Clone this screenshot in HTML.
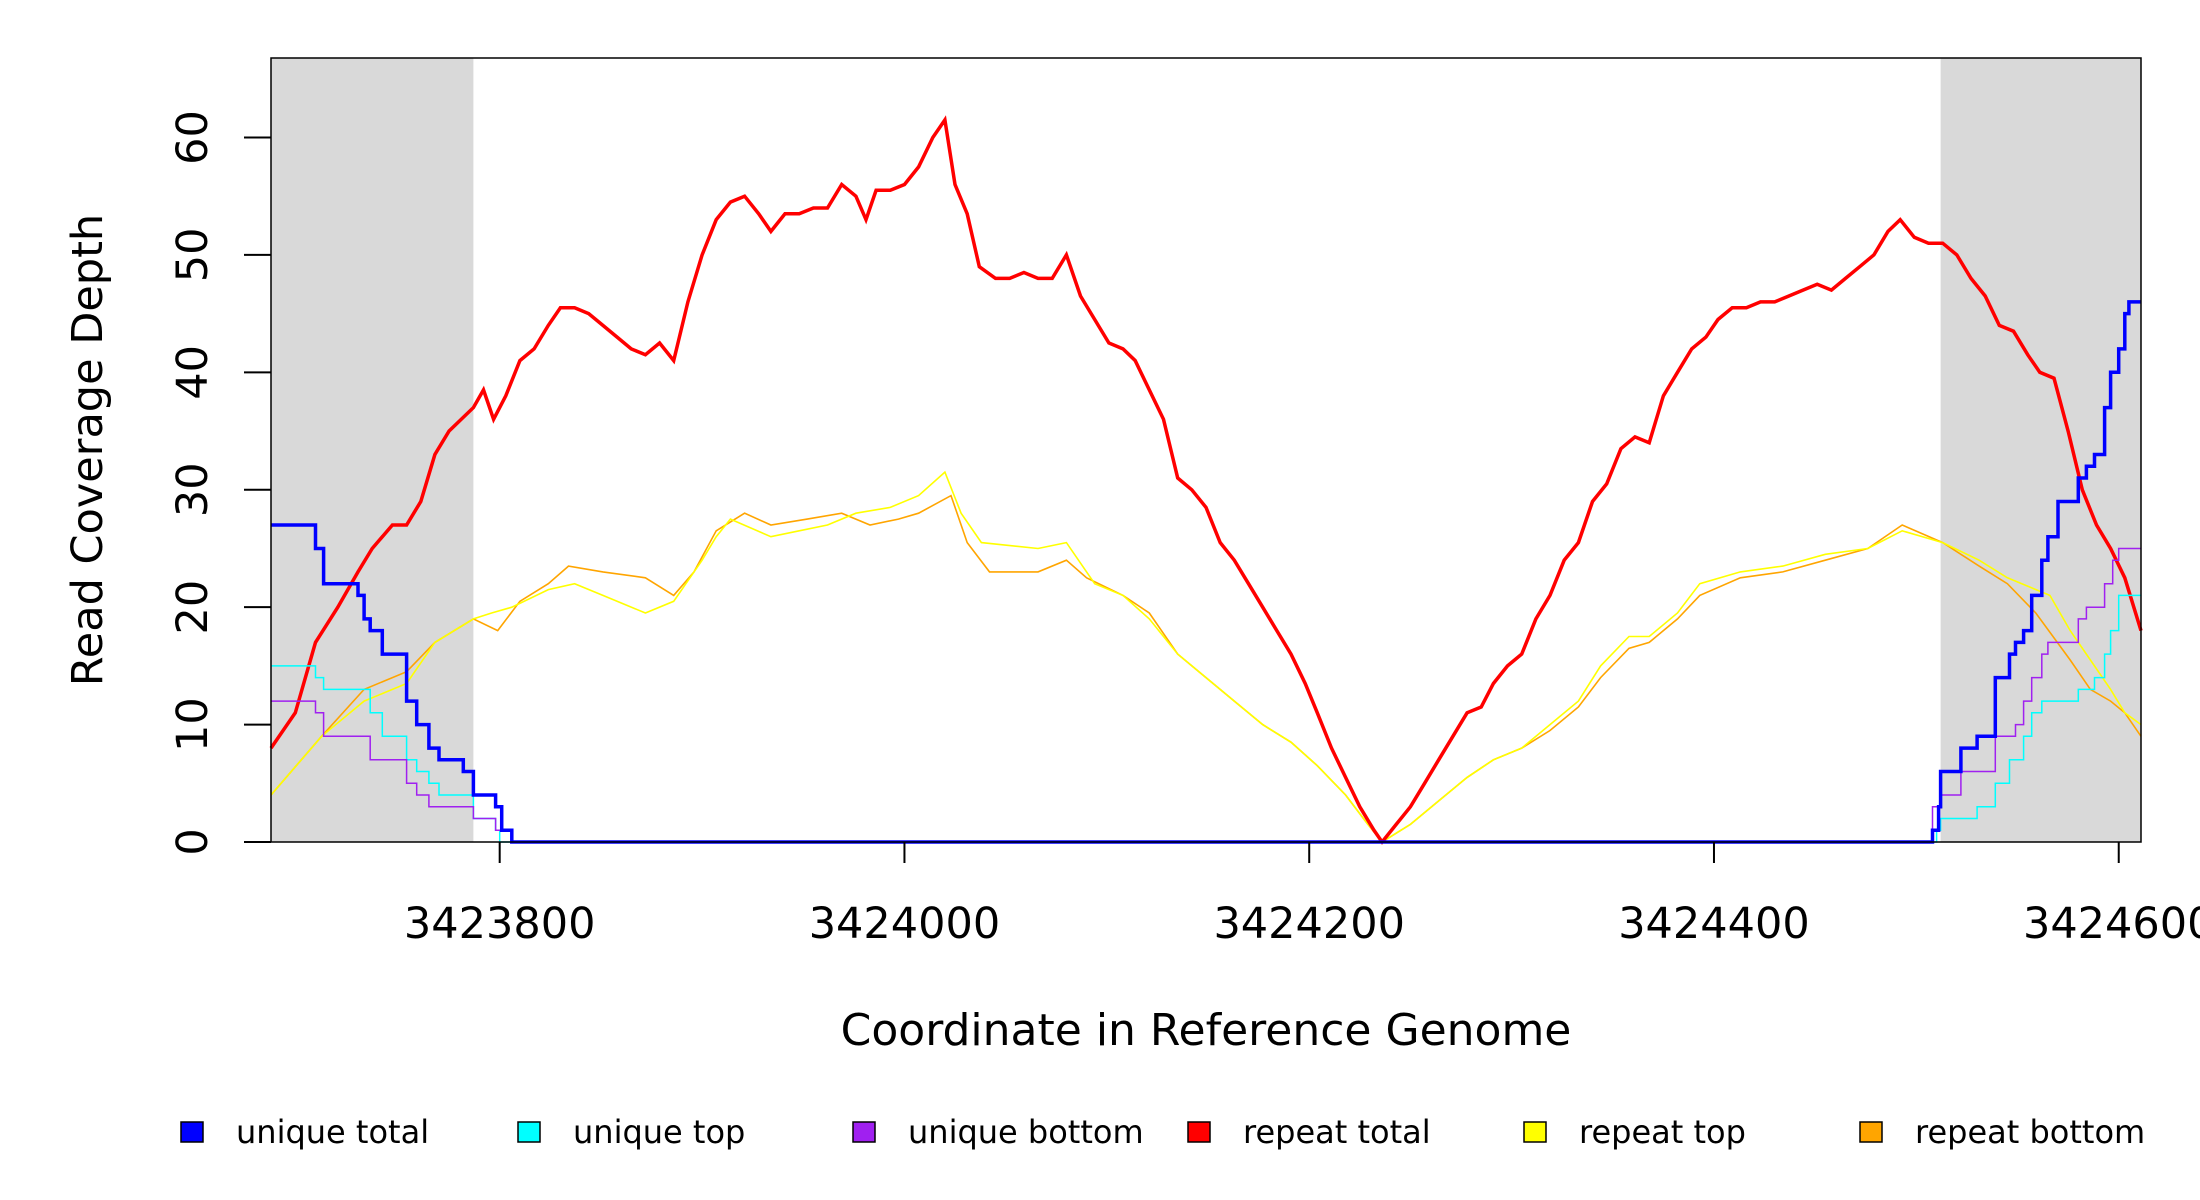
<!DOCTYPE html>
<html><head><meta charset="utf-8"><style>
html,body{margin:0;padding:0;background:#fff;}
svg{display:block;font-family:"DejaVu Sans","Liberation Sans",sans-serif;}
</style></head>
<body>
<svg id="chart" width="2200" height="1200" viewBox="0 0 2200 1200" xmlns="http://www.w3.org/2000/svg">
<g id="bg"></g>
<g id="series"></g>
<g id="axes"></g>
<g id="legend"></g>
</svg>
<script>
// ---- data ----
const xTicks = [3423800, 3424000, 3424200, 3424400, 3424600];
const yTicks = [0, 10, 20, 30, 40, 50, 60];
const shadeLeft = [3423687, 3423787];
const shadeRight = [3424512, 3424611];

const redPos = [3423687,3423699,3423709,3423720,3423730,3423737,3423747,3423754,3423761,3423768,3423775,3423787,3423792,3423797,3423803,3423810,3423817,3423824,3423830,3423837,3423844,3423851,3423858,3423865,3423872,3423879,3423886,3423893,3423900,3423907,3423914,3423921,3423928,3423934,3423941,3423948,3423955,3423962,3423969,3423976,3423981,3423986,3423993,3424000,3424007,3424014,3424020,3424025,3424031,3424037,3424045,3424052,3424059,3424066,3424073,3424080,3424087,3424094,3424101,3424108,3424114,3424121,3424128,3424135,3424142,3424149,3424156,3424163,3424170,3424177,3424184,3424191,3424198,3424204,3424211,3424218,3424225,3424232,3424236,3424243,3424250,3424257,3424264,3424271,3424278,3424285,3424291,3424298,3424305,3424312,3424319,3424326,3424333,3424340,3424347,3424354,3424361,3424368,3424375,3424382,3424389,3424396,3424402,3424409,3424416,3424423,3424430,3424437,3424444,3424451,3424458,3424465,3424472,3424479,3424486,3424492,3424499,3424506,3424513,3424520,3424527,3424534,3424541,3424548,3424555,3424561,3424568,3424575,3424582,3424589,3424596,3424603,3424611];
const redVal = [8,11,17,20,23,25,27,27,29,33,35,37,38.5,36,38,41,42,44,45.5,45.5,45,44,43,42,41.5,42.5,41,46,50,53,54.5,55,53.5,52,53.5,53.5,54,54,56,55,53,55.5,55.5,56,57.5,60,61.5,56,53.5,49,48,48,48.5,48,48,50,46.5,44.5,42.5,42,41,38.5,36,31,30,28.5,25.5,24,22,20,18,16,13.5,11,8,5.5,3,1,0,1.5,3,5,7,9,11,11.5,13.5,15,16,19,21,24,25.5,29,30.5,33.5,34.5,34,38,40,42,43,44.5,45.5,45.5,46,46,46.5,47,47.5,47,48,49,50,52,53,51.5,51,51,50,48,46.5,44,43.5,41.5,40,39.5,35,30,27,25,22.5,18];

const yelPos = [3423687,3423712,3423733,3423754,3423768,3423787,3423796,3423806,3423824,3423837,3423851,3423872,3423886,3423900,3423907,3423914,3423934,3423948,3423962,3423976,3423993,3424007,3424020,3424028,3424038,3424066,3424080,3424094,3424108,3424121,3424135,3424149,3424163,3424177,3424191,3424204,3424218,3424229,3424236,3424250,3424264,3424278,3424291,3424305,3424319,3424333,3424344,3424358,3424368,3424382,3424393,3424413,3424434,3424455,3424476,3424493,3424513,3424531,3424545,3424566,3424576,3424586,3424596,3424603,3424611];
const yelVal = [4,9,12,13.5,17,19,19.5,20,21.5,22,21,19.5,20.5,24,26,27.5,26,26.5,27,28,28.5,29.5,31.5,28,25.5,25,25.5,22,21,19,16,14,12,10,8.5,6.5,4,1.5,0,1.5,3.5,5.5,7,8,10,12,15,17.5,17.5,19.5,22,23,23.5,24.5,25,26.5,25.5,24,22.5,21,18,15.5,13,11,10];

const orgPos = [3423687,3423712,3423733,3423754,3423768,3423787,3423799,3423810,3423824,3423834,3423851,3423872,3423886,3423896,3423907,3423921,3423934,3423952,3423969,3423983,3423997,3424007,3424023,3424031,3424042,3424066,3424080,3424090,3424108,3424121,3424135,3424149,3424163,3424177,3424191,3424204,3424218,3424229,3424236,3424250,3424264,3424278,3424291,3424305,3424319,3424333,3424344,3424358,3424368,3424382,3424393,3424413,3424434,3424455,3424476,3424493,3424513,3424531,3424545,3424559,3424576,3424586,3424596,3424603,3424611];
const orgVal = [4,9,13,14.5,17,19,18,20.5,22,23.5,23,22.5,21,23,26.5,28,27,27.5,28,27,27.5,28,29.5,25.5,23,23,24,22.5,21,19.5,16,14,12,10,8.5,6.5,4,1.5,0,1.5,3.5,5.5,7,8,9.5,11.5,14,16.5,17,19,21,22.5,23,24,25,27,25.5,23.5,22,19.5,15.5,13,12,11,9];

const bluePos = [3423687,3423709,3423713,3423730,3423733,3423736,3423742,3423754,3423759,3423765,3423770,3423782,3423787,3423798,3423801,3423806,3424508,3424511,3424512,3424522,3424530,3424539,3424546,3424549,3424553,3424557,3424562,3424565,3424570,3424580,3424584,3424588,3424593,3424596,3424600,3424603,3424605];
const blueVal = [27,25,22,21,19,18,16,12,10,8,7,6,4,3,1,0,1,3,6,8,9,14,16,17,18,21,24,26,29,31,32,33,37,40,42,45,46];

const cyanPos = [3423687,3423709,3423713,3423736,3423742,3423754,3423759,3423765,3423770,3423787,3423798,3423800,3424510,3424512,3424530,3424539,3424546,3424553,3424557,3424562,3424580,3424588,3424593,3424596,3424600];
const cyanVal = [15,14,13,11,9,7,6,5,4,2,1,0,1,2,3,5,7,9,11,12,13,14,16,18,21];

const purPos = [3423687,3423709,3423713,3423736,3423754,3423759,3423765,3423787,3423798,3423806,3424508,3424512,3424522,3424539,3424549,3424553,3424557,3424562,3424565,3424580,3424584,3424593,3424597,3424600];
const purVal = [12,11,9,7,5,4,3,2,1,0,3,4,6,9,10,12,14,16,17,19,20,22,24,25];

const legendLabels = ["unique total","unique top","unique bottom","repeat total","repeat top","repeat bottom"];
const legendColors = ["#0000ff","#00ffff","#a020f0","#ff0000","#ffff00","#ffa500"];

// ---- scales ----
const X0 = 3423687, X1 = 3424611, PL = 271, PR = 2141, PT = 58, PB = 842;
const x = v => PL + (v - X0) / (X1 - X0) * (PR - PL);
const y = v => 842 - v * (842 - 137.5) / 60;
const NS = "http://www.w3.org/2000/svg";
function mk(tag, attrs, parent) {
  const e = document.createElementNS(NS, tag);
  for (const k in attrs) e.setAttribute(k, attrs[k]);
  parent.appendChild(e);
  return e;
}
const bg = document.getElementById('bg'), ser = document.getElementById('series'),
      ax = document.getElementById('axes'), lg = document.getElementById('legend');

const s1 = mk('rect', {x: x(shadeLeft[0]), y: PT, width: x(shadeLeft[1]) - x(shadeLeft[0]), height: PB - PT, fill: '#d9d9d9'}, bg);


const s2 = mk('rect', {x: x(shadeRight[0]), y: PT, width: x(shadeRight[1]) - x(shadeRight[0]), height: PB - PT, fill: '#d9d9d9'}, bg);



function stepPath(pos, val) {
  let d = 'M' + x(pos[0]).toFixed(1) + ',' + y(val[0]).toFixed(1);
  for (let i = 1; i < pos.length; i++) {
    d += 'H' + x(pos[i]).toFixed(1) + 'V' + y(val[i]).toFixed(1);
  }
  d += 'H' + x(X1).toFixed(1);
  return d;
}
function linePath(pos, val) {
  let d = 'M' + x(pos[0]).toFixed(1) + ',' + y(val[0]).toFixed(1);
  for (let i = 1; i < pos.length; i++) {
    d += 'L' + x(pos[i]).toFixed(1) + ',' + y(val[i]).toFixed(1);
  }
  return d;
}
function drawSeries(d, color, w, name) {
  const p = mk('path', {d: d, fill: 'none', stroke: color, 'stroke-width': w, 'stroke-linejoin': 'miter'}, ser);
  
  
}
drawSeries(linePath(orgPos, orgVal), '#ffa500', 1.6, 'repeat-bottom-line');
drawSeries(linePath(yelPos, yelVal), '#ffff00', 1.6, 'repeat-top-line');
drawSeries(linePath(redPos, redVal), '#ff0000', 3.5, 'repeat-total-line');
drawSeries(stepPath(cyanPos, cyanVal), '#00ffff', 1.5, 'unique-top-line');
drawSeries(stepPath(purPos, purVal), '#a020f0', 1.5, 'unique-bottom-line');
drawSeries(stepPath(bluePos, blueVal), '#0000ff', 3.5, 'unique-total-line');

const box = mk('rect', {x: PL, y: PT, width: PR - PL, height: PB - PT, fill: 'none', stroke: '#000', 'stroke-width': 1.5}, ax);



xTicks.forEach(t => {
  const l = mk('line', {x1: x(t), x2: x(t), y1: PB, y2: PB + 21, stroke: '#000', 'stroke-width': 2}, ax);
  
  
  const tx = mk('text', {x: x(t), y: 938, 'font-size': 43, 'text-anchor': 'middle'}, ax);
  tx.textContent = t;
  
  
});
yTicks.forEach(t => {
  const l = mk('line', {x1: PL - 27, x2: PL, y1: y(t), y2: y(t), stroke: '#000', 'stroke-width': 2}, ax);
  
  
  const tx = mk('text', {x: 0, y: 0, 'font-size': 43, 'text-anchor': 'middle', transform: 'translate(207,' + y(t) + ') rotate(-90)'}, ax);
  tx.textContent = t;
  
  
});
const xt = mk('text', {x: 1206, y: 1045, 'font-size': 44, 'text-anchor': 'middle'}, ax);
xt.textContent = 'Coordinate in Reference Genome';


const yt = mk('text', {x: 0, y: 0, 'font-size': 43, 'text-anchor': 'middle', transform: 'translate(102,450) rotate(-90)'}, ax);
yt.textContent = 'Read Coverage Depth';



const legX = [181, 518, 853, 1188, 1524, 1860];
legendLabels.forEach((lab, i) => {
  const g = mk('g', {}, lg);
  
  
  mk('rect', {x: legX[i], y: 1122, width: 22, height: 20, fill: legendColors[i], stroke: '#000', 'stroke-width': 1.5}, g);
  const t = mk('text', {x: legX[i] + 55, y: 1143, 'font-size': 32}, g);
  t.textContent = lab;
});
</script>
</body></html>
